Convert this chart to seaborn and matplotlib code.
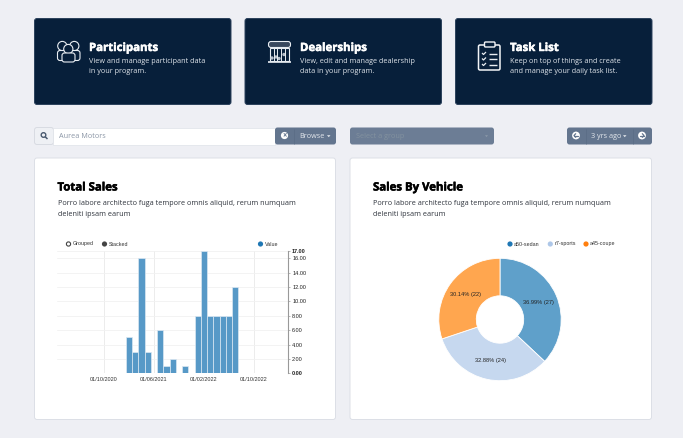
import matplotlib
matplotlib.use("Agg")
import matplotlib.patheffects as pe
import matplotlib.pyplot as plt
import numpy as np
import pandas as pd
import seaborn as sns
from matplotlib.patches import Circle, FancyBboxPatch, Rectangle

W, H = 683, 438
BG = "#eeeff4"
NAVY = "#071f3a"
SLATE = "#63758e"

# bar chart data, one value per month
months = pd.date_range("2020-03-01", "2023-03-01", freq="MS").strftime("%d/%m/%Y").tolist()
sales = [0, 0, 0, 0, 0, 0, 0, 0, 0, 0, 0,
         5, 3, 16, 3, 0, 6, 1, 2, 0, 1, 0,
         8, 17, 8, 8, 8, 8, 12,
         0, 0, 0, 0, 0, 0, 0, 0]
date_ticks = ["01/10/2020", "01/06/2021", "01/02/2022", "01/10/2022"]
value_ticks = [0, 2, 4, 6, 8, 10, 12, 14, 16, 17]

# pie data
vehicles = ["a50-sedan", "r7-sports", "a45-coupe"]
vehicle_sales = [27, 24, 22]
vehicle_colors = ["#5fa0ca", "#c6d8ef", "#ffa64f"]

# text of the page
tiles = [
    ("Participants", ["View and manage participant data", "in your program."], 89),
    ("Dealerships", ["View, edit and manage dealership", "data in your program."], 300),
    ("Task List", ["Keep on top of things and create", "and manage your daily task list."], 510),
]
lorem = ["Porro labore architecto fuga tempore omnis aliquid, rerum numquam", "deleniti ipsam earum"]

sns.set_theme(style="white")
plt.rcParams["font.family"] = ["Open Sans", "DejaVu Sans"]

fig = plt.figure(figsize=(W / 100, H / 100), dpi=100, facecolor=BG)
page = fig.add_axes([0, 0, 1, 1], zorder=0)
page.set_xlim(0, W)
page.set_ylim(H, 0)
page.axis("off")


def box(x, y, w, h, color, edge="none", r=2.5, lw=0.7):
    page.add_patch(FancyBboxPatch((x + r, y + r), w - 2 * r, h - 2 * r,
                                  boxstyle=f"round,pad={r}", fc=color, ec=edge, lw=lw))


def line(xs, ys, color="#e8edf2", lw=1.0):
    page.plot(xs, ys, color=color, lw=lw, solid_capstyle="butt")


def heading(x, y, text, color):
    page.text(x, y, text, color=color, fontsize=8.2, fontweight="bold", va="center",
              path_effects=[pe.withStroke(linewidth=0.35, foreground=color)])


def arrow_button(x, y, direction):
    page.add_patch(Circle((x, y), 3.9, fc="white", ec="none"))
    page.plot([x - 2, x + 2], [y, y], color=SLATE, lw=0.9)
    page.plot([x + direction * 0.3, x + direction * 2, x + direction * 0.3],
              [y - 1.8, y, y + 1.8], color=SLATE, lw=0.9)


# top tiles
for x0 in [34.5, 245, 455.5]:
    box(x0, 18.5, 196.5, 86, NAVY, edge="#2b415c")
for title, body, x in tiles:
    heading(x, 48.5, title, "white")
    page.text(x, 61.5, body[0], color="#dfe4ea", fontsize=5.2, va="center")
    page.text(x, 71.8, body[1], color="#dfe4ea", fontsize=5.2, va="center")

# people icon
for cx, body_x in [(62.3, 57.5), (74.3, 69)]:
    page.add_patch(Circle((cx, 46), 4.6, fc="none", ec="#e8edf2", lw=0.8))
    box(body_x, 50.5, 11, 10, NAVY, edge="#e8edf2", r=2.5, lw=0.8)
page.add_patch(Circle((68.3, 49), 4.6, fc=NAVY, ec="#e8edf2", lw=0.8))
box(62, 53, 13, 9, NAVY, edge="#e8edf2", r=2.5, lw=0.8)

# store icon
box(268.5, 41.5, 22, 6, "#39495f", edge="#e8edf2", r=2.5, lw=0.8)
page.add_patch(Rectangle((270, 47.5), 19, 13.5, fc=NAVY, ec="#e8edf2", lw=0.8))
for x in [273.5, 277, 280.5, 284.5]:
    line([x, x], [47.5, 61], lw=0.7)
line([268, 291], [61.5, 61.5], lw=1.2)
for x, y in [(272, 58), (276, 57), (279, 58.5), (284, 54.5)]:
    page.add_patch(Circle((x, y), 1.7, fc="#b6bfca", ec="none"))

# clipboard icon
box(478.5, 45, 21.5, 25, NAVY, edge="#f2f4f7", r=1.5, lw=1.1)
box(484.5, 42, 10.5, 5, NAVY, edge="#f2f4f7", r=1, lw=1.0)
for y in [53.5, 59, 64.5]:
    line([482, 483.5, 486], [y - 0.5, y + 1, y - 1.5], lw=0.9)
    line([489, 497], [y, y], lw=1.0)

# search bar and pickers
box(34.5, 127.5, 19, 17, "#eef0f4", edge="#d8dbe2")
page.add_patch(Circle((43.5, 135), 2.3, fc="none", ec="#4a5a70", lw=1.0))
line([45.2, 47.5], [136.8, 139], color="#4a5a70", lw=1.1)
page.add_patch(Rectangle((53, 128), 222, 16.5, fc="white", ec="#dfe2e8", lw=0.5))
page.text(59, 136.6, "Aurea Motors", color="#8a95a5", fontsize=5.2, va="center")
box(275, 127.5, 61, 17, SLATE)
line([293.5, 293.5], [128.5, 143.5], color="#596b84", lw=0.5)
page.add_patch(Circle((284.5, 135.5), 3.6, fc="white", ec="none"))
page.text(284.5, 135.5, "×", color=SLATE, fontsize=5.5, ha="center", va="center", fontweight="bold")
page.text(299.5, 136.6, "Browse", color="#e3e7ec", fontsize=5.2, va="center")
page.fill([327, 330.5, 328.75], [135.2, 135.2, 137.2], color="#e3e7ec", lw=0)

box(350, 127.5, 144, 17, "#6c7d95")
page.text(355.7, 136.6, "Select a group", color="#83929f", fontsize=5.2, va="center")
page.fill([485, 488, 486.5], [135.2, 135.2, 137.2], color="#8a98a8", lw=0)

box(567, 127.5, 85, 17, SLATE)
line([585.5, 585.5], [128.5, 143.5], color="#596b84", lw=0.5)
line([633, 633], [128.5, 143.5], color="#596b84", lw=0.5)
arrow_button(576, 135.5, -1)
arrow_button(642, 135.5, 1)
page.text(590.7, 136.6, "3 yrs ago", color="#e3e7ec", fontsize=5.2, va="center")
page.fill([623, 626.5, 624.75], [135.2, 135.2, 137.2], color="#e3e7ec", lw=0)

# white panels
box(34.5, 158, 301, 261.5, "white", edge="#dcdfe6")
box(350, 158, 301.5, 261.5, "white", edge="#dcdfe6")
for x, title in [(57.5, "Total Sales"), (373, "Sales By Vehicle")]:
    heading(x, 188, title, "black")
    page.text(x, 203.5, lorem[0], color="#2e333c", fontsize=5.2, va="center")
    page.text(x, 214.1, lorem[1], color="#2e333c", fontsize=5.2, va="center")

# chart legends
chart_font = ["Liberation Sans", "DejaVu Sans"]
page.add_patch(Circle((68.5, 244), 2.1, fc="white", ec="#444444", lw=0.8))
page.text(73, 244, "Grouped", fontsize=3.9, color="#333333", va="center", family=chart_font)
page.add_patch(Circle((104.5, 244), 2.6, fc="#444444", ec="none"))
page.text(109, 244, "Stacked", fontsize=3.9, color="#333333", va="center", family=chart_font)
page.add_patch(Circle((260.5, 244), 2.6, fc="#1f77b4", ec="none"))
page.text(264.5, 244, "Value", fontsize=3.9, color="#333333", va="center", family=chart_font)
for x, name, color in zip([510, 550.3, 586], vehicles, ["#1f77b4", "#aec7e8", "#ff7f0e"]):
    page.add_patch(Circle((x, 244), 2.6, fc=color, ec="none"))
    page.text(x + 4, 244, name, fontsize=3.9, color="#333333", va="center", family=chart_font)

# bars
left, right, top, bottom = 57, 288, 251, 373.3
ax = fig.add_axes([left / W, 1 - bottom / H, (right - left) / W, (bottom - top) / H], zorder=2)
ax.patch.set_alpha(0)
df = pd.DataFrame({"month": months, "value": sales})
sns.barplot(df, x="month", y="value", color="#5799c7", saturation=1, width=1.0,
            edgecolor="#dbe8f3", linewidth=0.5, ax=ax)
oct_pos = months.index("01/10/2020")
ax.set_xlim(oct_pos - 7.5, oct_pos + 29.45)
ax.set_ylim(0, 17)
ax.set_xlabel("")
ax.set_ylabel("")
ax.set_xticks([months.index(d) for d in date_ticks], date_ticks)
ax.set_yticks(value_ticks, [f"{v:.2f}" for v in value_ticks])
ax.yaxis.tick_right()
ax.grid(True, axis="x", color="#e9e9e9", lw=0.6)
ax.grid(True, axis="y", color="#f1f1f1", lw=0.6)
ax.set_axisbelow(True)
for s in ["top", "left", "bottom"]:
    ax.spines[s].set_visible(False)
ax.spines["right"].set_color("#999999")
ax.spines["right"].set_linewidth(0.8)
ax.tick_params(axis="x", length=0, pad=3, labelsize=4.0, labelcolor="#333333")
ax.tick_params(axis="y", length=1.5, width=0.5, color="#999999", pad=1.5, labelsize=4.0, labelcolor="#222222", right=True)
for label in ax.get_xticklabels() + ax.get_yticklabels():
    label.set_family(chart_font)
for label, v in zip(ax.get_yticklabels(), value_ticks):
    if v in (0, 17):
        label.set_fontweight("bold")

# donut
cx, cy, r = 500, 319.5, 61.2
pie_ax = fig.add_axes([(cx - r) / W, 1 - (cy + r) / H, 2 * r / W, 2 * r / H], zorder=2)
total = sum(vehicle_sales)
pie_labels = [f"{v / total * 100:.2f}% ({v})" for v in vehicle_sales]
wedges, _ = pie_ax.pie(vehicle_sales, colors=vehicle_colors, startangle=90, counterclock=False, radius=1,
                       wedgeprops=dict(width=1 - 23.7 / r, edgecolor="white", linewidth=0.6))
for wedge, text in zip(wedges, pie_labels):
    mid = np.deg2rad((wedge.theta1 + wedge.theta2) / 2)
    pie_ax.text(0.69 * np.cos(mid), 0.69 * np.sin(mid), text, ha="center", va="center",
                fontsize=4.1, color="#222222", family=chart_font)
pie_ax.set_xlim(-1, 1)
pie_ax.set_ylim(-1, 1)

fig.savefig("out.png", dpi=100, facecolor=BG)
